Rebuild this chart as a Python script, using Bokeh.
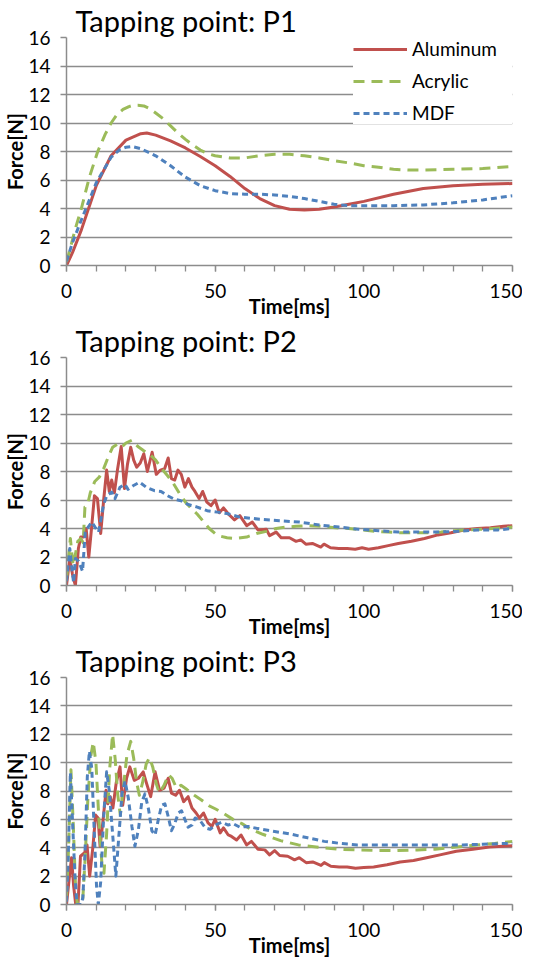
from bokeh.plotting import figure
from bokeh.layouts import column
from bokeh.models import FixedTicker, Legend, LegendItem, Range1d
from bokeh.embed import file_html
from bokeh.resources import INLINE

# ---------------- data (time [ms], force [N]) ----------------
titles = ["Tapping point: P1", "Tapping point: P2", "Tapping point: P3"]
series_names = ["Aluminum", "Acrylic", "MDF"]
x_tick_labels = [0, 50, 100, 150]
y_ticks = [0, 2, 4, 6, 8, 10, 12, 14, 16]
x_title = "Time[ms]"
y_title = "Force[N]"

p1_aluminum = [(0, 0), (2, 0.9), (5, 2.5), (10, 5.6), (15, 7.7), (20, 8.8), (25, 9.25), (27, 9.3),
               (30, 9.15), (35, 8.75), (40, 8.25), (45, 7.65), (50, 7.0), (55, 6.25), (60, 5.4),
               (65, 4.7), (70, 4.2), (75, 3.95), (80, 3.9), (85, 3.95), (90, 4.1), (95, 4.3),
               (100, 4.5), (110, 5.0), (120, 5.4), (130, 5.6), (140, 5.7), (150, 5.75)]
p1_acrylic = [(0, 0.25), (1, 1.0), (3, 2.6), (5, 4.0), (7.7, 6.2), (10.5, 8.0), (13, 9.2), (15, 10.0),
              (17, 10.6), (19, 10.95), (21, 11.15), (22.5, 11.25), (24, 11.25), (26, 11.2), (28, 11.0),
              (30, 10.7), (32.5, 10.3), (35, 9.8), (37.5, 9.3), (40, 8.85), (42.5, 8.45), (45, 8.1),
              (47.5, 7.85), (50, 7.7), (55, 7.55), (60, 7.55), (65, 7.7), (70, 7.8), (75, 7.8),
              (80, 7.7), (85, 7.55), (90, 7.35), (95, 7.2), (100, 7.0), (105, 6.9), (110, 6.75),
              (115, 6.7), (120, 6.7), (130, 6.75), (140, 6.8), (150, 6.95)]
p1_mdf = [(0, 0.3), (2, 1.6), (5, 3.2), (10, 5.8), (15, 7.6), (18, 8.15), (20, 8.3), (22, 8.35),
          (25, 8.2), (30, 7.7), (35, 7.0), (40, 6.2), (45, 5.6), (50, 5.25), (55, 5.05), (60, 5.0),
          (65, 5.0), (70, 4.95), (75, 4.85), (80, 4.7), (85, 4.5), (90, 4.3), (95, 4.2), (100, 4.2),
          (110, 4.2), (120, 4.25), (130, 4.4), (140, 4.6), (150, 4.9)]

p2_aluminum = [(0, 0), (1.1, 1.9), (2.0, 0.8), (3.0, 0.0), (4.0, 2.6), (4.8, 3.4), (5.8, 3.4), (6.6, 4.0),
               (7.5, 2.0), (8.5, 4.2), (9.4, 6.3), (10.4, 6.1), (11.5, 3.65), (12.5, 6.0), (13.5, 8.1),
               (14.4, 6.6), (15.2, 7.4), (16.1, 6.5), (17.2, 8.2), (18.4, 9.75), (19.5, 6.8), (20.5, 8.5),
               (21.6, 9.7), (22.6, 8.8), (23.6, 8.3), (24.8, 8.6), (26.0, 9.25), (27.2, 8.0), (28.8, 9.35),
               (30.2, 7.8), (31.6, 8.1), (33.0, 8.2), (34.2, 8.95), (35.3, 7.5), (36.4, 7.4), (37.5, 8.1),
               (38.6, 7.8), (39.8, 6.9), (41.0, 7.5), (42.2, 6.9), (43.2, 6.6), (44.6, 6.1), (45.8, 6.6),
               (47.2, 5.85), (48.6, 5.6), (50.0, 6.0), (51.4, 5.1), (52.8, 5.45), (54.5, 5.0), (56.5, 4.6),
               (58.3, 4.9), (60.6, 4.2), (62.5, 4.45), (64.4, 3.9), (67.2, 3.95), (68.3, 3.5), (70.5, 3.75),
               (72.2, 3.35), (75.0, 3.35), (77.2, 3.1), (78.8, 3.2), (80.5, 2.9), (82.7, 2.95), (85.5, 2.7),
               (86.6, 2.9), (88.8, 2.65), (91.6, 2.6), (94.4, 2.6), (97.1, 2.55), (99.4, 2.65), (101.6, 2.55),
               (104.9, 2.65), (108.2, 2.8), (111.6, 2.95), (116.0, 3.1), (120.4, 3.3), (124.9, 3.55),
               (129.3, 3.7), (133.7, 3.9), (138.2, 4.0), (142.6, 4.05), (147.0, 4.15), (150, 4.2)]
p2_acrylic = [(0, 0.5), (0.7, 2.0), (1.3, 3.3), (2.2, 1.4), (3.0, 2.2), (3.8, 3.1), (4.8, 3.3), (5.6, 3.0),
              (6.2, 5.5), (7.0, 5.6), (8.0, 6.5), (9.5, 7.3), (11.0, 7.6), (12.5, 8.2), (14.0, 9.0),
              (15.5, 9.7), (17.0, 9.9), (18.5, 9.7), (20.0, 10.0), (22.0, 10.2), (24.0, 9.75), (26.0, 9.45),
              (28.0, 9.2), (30.0, 8.8), (32.0, 8.2), (34.0, 7.7), (36.0, 7.15), (38.0, 6.45), (40.0, 5.85),
              (42.0, 5.4), (44.0, 5.0), (46.0, 4.5), (48.0, 4.0), (50.0, 3.65), (52.0, 3.45), (54.0, 3.35),
              (57.0, 3.3), (60.6, 3.4), (63.9, 3.65), (67.2, 3.8), (70.5, 4.0), (73.9, 4.1), (77.2, 4.15),
              (81.6, 4.2), (86.0, 4.15), (90.5, 4.05), (94.9, 4.0), (99.4, 3.9), (103.8, 3.8), (108.2, 3.75),
              (112.7, 3.7), (117.0, 3.7), (121.5, 3.7), (126.0, 3.75), (130.4, 3.85), (134.8, 3.9),
              (139.3, 3.95), (143.7, 4.0), (150, 4.1)]
p2_mdf = [(0, 0.3), (1.1, 2.6), (1.9, 1.0), (2.4, 0.2), (3.0, 1.9), (4.1, 1.7), (5.4, 1.0), (6.3, 3.75),
          (7.3, 4.1), (8.5, 4.45), (9.6, 4.1), (10.8, 3.75), (12.4, 5.6), (13.5, 6.3), (15.2, 6.55),
          (16.3, 6.1), (18.0, 6.9), (19.6, 7.1), (20.7, 6.75), (22.4, 7.0), (24.6, 7.25), (26.8, 6.9),
          (29.6, 6.65), (31.8, 6.6), (34.0, 6.3), (36.3, 6.05), (38.5, 5.95), (40.7, 5.7), (44.0, 5.5),
          (47.3, 5.25), (50.7, 5.15), (54.0, 5.05), (58.3, 4.8), (65.0, 4.65), (71.6, 4.55), (78.3, 4.45),
          (85.0, 4.25), (91.6, 4.1), (98.2, 3.95), (104.9, 3.85), (111.6, 3.75), (118.2, 3.75),
          (124.9, 3.75), (131.5, 3.8), (138.2, 3.9), (145, 3.9), (150, 4.0)]

p3_aluminum = [(0, 0), (0.9, 1.8), (1.7, 3.3), (2.4, 1.3), (3.1, 0), (3.9, 0.15), (4.7, 3.4), (6.1, 3.65),
               (6.9, 4.2), (7.8, 2.0), (8.9, 4.1), (9.8, 6.3), (10.6, 6.1), (11.3, 4.1), (12.2, 5.75),
               (13.3, 8.05), (13.9, 7.1), (14.7, 7.6), (15.6, 6.8), (16.7, 8.55), (18.0, 9.7), (18.9, 7.0),
               (20.2, 8.9), (21.3, 9.7), (22.8, 8.75), (24.2, 8.9), (25.8, 9.35), (26.9, 8.55), (28.3, 7.6),
               (29.8, 9.35), (31.3, 8.05), (32.8, 8.2), (34.2, 8.9), (35.3, 7.85), (36.7, 7.7), (38.0, 8.05),
               (39.4, 7.25), (40.9, 7.6), (42.2, 6.8), (43.6, 6.45), (44.7, 6.1), (46.1, 6.45), (47.6, 5.75),
               (48.9, 5.5), (50.0, 6.0), (51.7, 5.05), (52.8, 5.4), (54.4, 4.9), (55.5, 4.8), (57.2, 4.55),
               (58.7, 4.9), (60.6, 4.2), (62.2, 4.45), (64.4, 3.9), (66.7, 3.85), (68.3, 3.5), (70.0, 3.8),
               (71.7, 3.45), (74.4, 3.4), (76.7, 3.15), (78.3, 3.3), (80.6, 2.95), (82.8, 3.0), (85.6, 2.75),
               (86.7, 2.95), (88.9, 2.7), (91.7, 2.65), (94.4, 2.65), (97.2, 2.55), (100.0, 2.6),
               (103.3, 2.65), (107.8, 2.8), (112.2, 3.0), (116.7, 3.1), (121.1, 3.3), (125.6, 3.5),
               (131.1, 3.75), (136.7, 3.9), (142.2, 4.05), (146.7, 4.1), (150, 4.15)]
p3_acrylic = [(0, 0.5), (0.7, 4.0), (1.5, 9.5), (2.3, 5.5), (3.0, 1.5), (3.6, 0.1), (5.4, 0.1), (6.2, 3.0),
              (7.2, 7.5), (8.2, 10.5), (9.0, 11.45), (9.9, 10.0), (10.9, 6.0), (12.0, 2.6), (12.6, 2.2),
              (13.5, 5.0), (14.5, 9.5), (15.5, 12.0), (16.4, 10.2), (17.2, 7.8), (18.1, 6.3), (19.1, 8.2),
              (20.3, 10.5), (21.6, 11.5), (22.6, 10.3), (23.6, 8.6), (24.5, 7.7), (25.6, 8.6), (26.8, 9.9),
              (27.9, 10.35), (29.0, 9.7), (30.2, 8.5), (31.2, 7.85), (32.8, 8.4), (34.3, 9.15), (35.5, 8.9),
              (37.0, 8.2), (38.5, 8.4), (40.5, 8.1), (43.0, 7.7), (45.5, 7.35), (48.0, 6.95), (50.0, 6.75),
              (53.0, 6.4), (56.0, 6.0), (59.0, 5.7), (62.0, 5.3), (66.0, 4.95), (72.0, 4.5), (78.0, 4.2),
              (84.0, 4.05), (91.0, 3.9), (98.0, 3.85), (105.0, 3.8), (111.0, 3.8), (118.0, 3.85),
              (124.0, 3.9), (131.0, 4.05), (138.0, 4.2), (144.0, 4.3), (150, 4.45)]
p3_mdf = [(0, 0.2), (0.6, 3.5), (1.3, 9.3), (2.0, 6.0), (2.8, 2.2), (3.5, 0.0), (5.0, 0.0), (5.5, 0.5),
          (6.2, 3.5), (7.0, 9.0), (7.7, 10.8), (8.5, 9.6), (9.3, 5.3), (10.1, 1.3), (10.7, 0.0), (11.5, 1.6),
          (12.5, 6.2), (13.5, 9.35), (14.4, 8.0), (15.5, 5.0), (16.6, 2.0), (17.6, 4.8), (18.7, 7.9),
          (19.7, 8.7), (20.8, 7.5), (22.0, 5.5), (23.0, 4.1), (24.2, 5.3), (25.3, 7.2), (26.4, 7.8),
          (27.6, 6.7), (28.7, 5.2), (29.8, 4.9), (30.9, 6.0), (32.0, 7.0), (33.1, 7.1), (34.2, 6.2),
          (35.3, 5.2), (36.4, 5.7), (37.6, 6.45), (38.7, 6.6), (39.8, 6.0), (40.9, 5.45), (42.2, 5.6),
          (43.3, 6.1), (45.0, 5.9), (46.7, 5.4), (48.3, 5.3), (50.0, 5.6), (52.2, 5.8), (54.4, 5.6),
          (56.0, 5.7), (58.3, 5.45), (61.1, 5.5), (64.4, 5.35), (70.0, 5.15), (75.6, 4.95), (81.1, 4.7),
          (86.7, 4.45), (92.2, 4.3), (97.8, 4.2), (103.3, 4.2), (114.4, 4.2), (125.6, 4.2), (133.3, 4.2),
          (140.0, 4.25), (146.7, 4.3), (150, 4.3)]

panels = [
    (p1_aluminum, p1_acrylic, p1_mdf),
    (p2_aluminum, p2_acrylic, p2_mdf),
    (p3_aluminum, p3_acrylic, p3_mdf),
]

# ---------------- styling / layout ----------------
FONT = "Lato"
colors = ["#C0504D", "#9BBB59", "#4F81BD"]
dashes = ["solid", "11 7", "6 4"]
GRAY = "#8c8c8c"

heights = [320, 320, 319]


def make_panel(idx):
    p = figure(width=522, height=heights[idx], x_range=Range1d(0, 150), y_range=Range1d(0, 16),
               output_backend="svg", toolbar_location=None,
               min_border_left=60, min_border_right=10, min_border_top=0, min_border_bottom=0)
    p.outline_line_color = None
    p.background_fill_color = "white"
    p.border_fill_color = "white"

    p.title.text = titles[idx]
    p.title.text_font = FONT
    p.title.text_font_size = "29px"
    p.title.text_font_style = "normal"
    p.title.text_color = "black"
    p.title.align = "left"
    p.title.offset = 9
    p.title.standoff = 0

    # axes
    p.xaxis.ticker = FixedTicker(ticks=x_tick_labels, minor_ticks=list(range(0, 151, 10)))
    p.yaxis.ticker = FixedTicker(ticks=y_ticks)
    for ax in (p.xaxis, p.yaxis):
        ax.axis_line_color = GRAY
        ax.axis_line_width = 1.5
        ax.major_tick_line_color = GRAY
        ax.major_tick_line_width = 1.3
        ax.major_tick_in = 0
        ax.major_tick_out = 6
        ax.minor_tick_line_color = GRAY
        ax.minor_tick_line_width = 1.3
        ax.minor_tick_in = 0
        ax.minor_tick_out = 6
        ax.major_label_text_font = FONT
        ax.major_label_text_font_size = "19px"
        ax.major_label_text_color = "black"
        ax.axis_label_text_font = FONT
        ax.axis_label_text_font_size = "20px"
        ax.axis_label_text_font_style = "bold"
        ax.axis_label_text_color = "black"
    p.yaxis.minor_tick_line_color = None
    p.xaxis.axis_label = x_title
    p.yaxis.axis_label = y_title
    p.xaxis.major_label_standoff = 12
    p.xaxis.axis_label_standoff = -7
    p.xaxis.major_label_text_line_height = 1.0
    p.xaxis.axis_label_text_line_height = 1.0
    p.yaxis.major_label_standoff = 10
    p.yaxis.axis_label_standoff = -2

    p.xgrid.visible = False
    p.ygrid.ticker = FixedTicker(ticks=y_ticks[1:])
    p.ygrid.grid_line_color = GRAY
    p.ygrid.grid_line_width = 1.3

    renderers = []
    for data, col, dash in zip(panels[idx], colors, dashes):
        xs = [d[0] for d in data]
        ys = [d[1] for d in data]
        r = p.line(xs, ys, line_color=col, line_width=3, line_dash=dash, line_join="round")
        renderers.append(r)

    if idx == 0:
        items = [LegendItem(label=n, renderers=[r]) for n, r in zip(series_names, renderers)]
        legend = Legend(items=items, location="top_right", margin=0, padding=3, spacing=9,
                        glyph_width=54, glyph_height=20, label_height=20, label_width=100,
                        label_standoff=5, border_line_color=None,
                        background_fill_color="white", background_fill_alpha=1.0,
                        label_text_font=FONT, label_text_font_size="19px", label_text_color="black")
        p.add_layout(legend)
    return p


figs = [make_panel(i) for i in range(3)]
layout = column(*figs, spacing=0)
open("out.html", "w").write(file_html(layout, INLINE))
